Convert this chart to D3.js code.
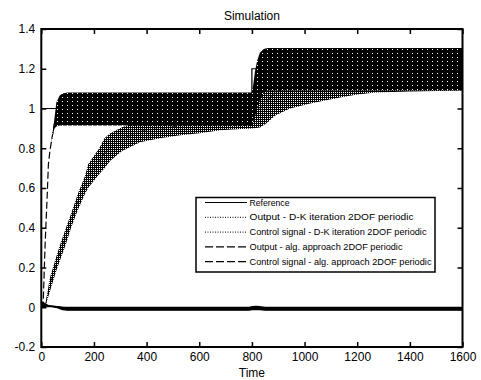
<!DOCTYPE html>
<html><head><meta charset="utf-8">
<script src="https://cdn.jsdelivr.net/npm/d3@7"></script>
<style>html,body{margin:0;padding:0;background:#fff;}svg{display:block;}</style>
</head><body>
<svg id="chart" width="481" height="380"></svg>
<script>
// ---- data ----
const xTicks = [0, 200, 400, 600, 800, 1000, 1200, 1400, 1600];
const yTicks = [-0.2, 0, 0.2, 0.4, 0.6, 0.8, 1, 1.2, 1.4];
const yTickLabels = ["-0.2", "0", "0.2", "0.4", "0.6", "0.8", "1", "1.2", "1.4"];

const refTime = [0, 800, 800, 1600];
const refValue = [1, 1, 1.2, 1.2];

// Output - alg. approach (dashed): envelope of the periodic oscillation
const algTime = [0, 5, 8, 14, 22, 27, 33, 41, 50, 57, 70, 80, 100, 800, 805, 812, 820, 830, 845, 860, 1600];
const algLow  = [0, 0, 0.05, 0.3, 0.55, 0.72, 0.79, 0.85, 0.9, 0.91, 0.915, 0.915, 0.915, 0.915, 0.93, 0.96, 1.0, 1.04, 1.08, 1.09, 1.09];
const algHigh = [0, 0, 0.05, 0.3, 0.55, 0.72, 0.79, 0.86, 0.95, 1.03, 1.065, 1.075, 1.08, 1.08, 1.12, 1.19, 1.24, 1.28, 1.30, 1.305, 1.305];

// Output - D-K iteration (dotted)
const dkTime = [0, 14, 33, 56, 75, 94, 113, 139, 166, 178, 220, 240, 262, 305, 375, 450, 528, 600, 680, 760, 800, 831, 860, 888, 945, 1021, 1097, 1135, 1200, 1268, 1400, 1600];
const dkLow  = [0, 0, 0.08, 0.18, 0.25, 0.32, 0.40, 0.49, 0.571, 0.60, 0.67, 0.70, 0.737, 0.785, 0.83, 0.85, 0.865, 0.875, 0.89, 0.897, 0.9, 0.905, 0.93, 0.965, 1.0, 1.025, 1.045, 1.055, 1.07, 1.08, 1.085, 1.09];
const dkHigh = [0, 0.005, 0.15, 0.25, 0.33, 0.40, 0.47, 0.571, 0.66, 0.72, 0.80, 0.85, 0.875, 0.905, 0.94, 0.95, 0.96, 0.965, 0.97, 0.975, 0.98, 1.1, 1.15, 1.2, 1.22, 1.24, 1.25, 1.25, 1.25, 1.25, 1.25, 1.25];

// Control signal - alg. approach (dashed)
const ctlAlgTime = [0, 3, 10, 20, 40, 60, 80, 100, 790, 800, 815, 830, 850, 1600];
const ctlAlgLow  = [0, 0, 0, 0, 0, -0.005, -0.015, -0.017, -0.017, -0.014, -0.01, -0.014, -0.017, -0.017];
const ctlAlgHigh = [0, 0.025, 0.015, 0.01, 0.008, 0.006, 0.003, 0.003, 0.003, 0.006, 0.008, 0.006, 0.003, 0.003];

// Control signal - D-K iteration (dotted)
const ctlDkTime = [0, 5, 15, 30, 60, 80, 100, 1600];
const ctlDkLow  = [0, 0.01, 0.005, 0.004, 0, -0.012, -0.015, -0.015];
const ctlDkHigh = [0, 0.03, 0.02, 0.01, 0.006, 0.002, 0, 0];

const legendLabels = [
  "Reference",
  "Output - D-K iteration 2DOF periodic",
  "Control signal - D-K iteration 2DOF periodic",
  "Output - alg. approach 2DOF periodic",
  "Control signal - alg. approach 2DOF periodic"
];
const legendStyles = ["solid", "dotted", "dotted", "dashed", "dashed"];
const legendWidths = [40, 164, 177, 153, 182];

// ---- drawing ----
const FONT = "'Liberation Sans', Arial, Helvetica, sans-serif";
const svg = d3.select("#chart");
const L = 41.3, R = 462.5, T = 29, B = 347;
const x = d3.scaleLinear().domain([0, 1600]).range([L, R]);
const y = d3.scaleLinear().domain([-0.2, 1.4]).range([B, T]);

svg.append("rect").attr("width", 481).attr("height", 380).attr("fill", "#fff");

const defs = svg.append("defs");
const pat = defs.append("pattern").attr("id", "dots").attr("patternUnits", "userSpaceOnUse")
  .attr("width", 2).attr("height", 2);
pat.append("rect").attr("width", 2).attr("height", 2).attr("fill", "#fff");
pat.append("rect").attr("x", 0).attr("y", 0).attr("width", 1).attr("height", 2).attr("fill", "#000");
pat.append("rect").attr("x", 1).attr("y", 1).attr("width", 1).attr("height", 1).attr("fill", "#000");
const pat2 = defs.append("pattern").attr("id", "dense").attr("patternUnits", "userSpaceOnUse")
  .attr("width", 5).attr("height", 4);
pat2.append("rect").attr("width", 5).attr("height", 4).attr("fill", "#000");
pat2.append("rect").attr("x", 2).attr("y", 1).attr("width", 1).attr("height", 1).attr("fill", "#fff");
defs.append("clipPath").attr("id", "clip").append("rect")
  .attr("x", L).attr("y", T).attr("width", R - L).attr("height", B - T);

const g = svg.append("g").attr("clip-path", "url(#clip)");

function band(time, lo, hi) {
  return time.map((t, i) => ({t, lo: lo[i], hi: hi[i]}));
}
const area = d3.area().x(d => x(d.t)).y0(d => y(d.lo)).y1(d => y(d.hi));
const mid = d3.line().x(d => x(d.t)).y(d => y((d.lo + d.hi) / 2));

// reference
g.append("path")
  .attr("d", d3.line().x(d => x(d.t)).y(d => y(d.v))(refTime.map((t, i) => ({t, v: refValue[i]}))))
  .attr("fill", "none").attr("stroke", "#000").attr("stroke-width", 1.2);

// D-K output (dotted)
const dk = band(dkTime, dkLow, dkHigh);
g.append("path").attr("d", area(dk)).attr("fill", "url(#dots)");
g.append("path").attr("d", mid(dk)).attr("fill", "none").attr("stroke", "#000")
  .attr("stroke-width", 1).attr("stroke-dasharray", "1,1.5");

// alg output (dashed)
const alg = band(algTime, algLow, algHigh);
g.append("path").attr("d", mid(alg)).attr("fill", "none").attr("stroke", "#000")
  .attr("stroke-width", 1.2).attr("stroke-dasharray", "7,3");
g.append("path").attr("d", area(alg)).attr("fill", "url(#dense)");

// control signals
const cdk = band(ctlDkTime, ctlDkLow, ctlDkHigh);
g.append("path").attr("d", area(cdk)).attr("fill", "#000");
g.append("path").attr("d", mid(cdk)).attr("fill", "none").attr("stroke", "#000")
  .attr("stroke-width", 1).attr("stroke-dasharray", "1,1.5");
const calg = band(ctlAlgTime, ctlAlgLow, ctlAlgHigh);
g.append("path").attr("d", area(calg)).attr("fill", "#000");
g.append("path").attr("d", mid(calg)).attr("fill", "none").attr("stroke", "#000")
  .attr("stroke-width", 1.2);

// axes (ticks inside, on all four sides)
const TL = 5;
const axB = svg.append("g").attr("transform", `translate(0,${B})`)
  .call(d3.axisBottom(x).tickValues(xTicks).tickSizeInner(-TL).tickSizeOuter(0).tickPadding(6)
    .tickFormat(d3.format("d")));
const axT = svg.append("g").attr("transform", `translate(0,${T})`)
  .call(d3.axisTop(x).tickValues(xTicks).tickSizeInner(-TL).tickSizeOuter(0).tickFormat(""));
const axL = svg.append("g").attr("transform", `translate(${L},0)`)
  .call(d3.axisLeft(y).tickValues(yTicks).tickSizeInner(-TL).tickSizeOuter(0).tickPadding(6)
    .tickFormat((d, i) => yTickLabels[i]));
const axR = svg.append("g").attr("transform", `translate(${R},0)`)
  .call(d3.axisRight(y).tickValues(yTicks).tickSizeInner(-TL).tickSizeOuter(0).tickFormat(""));
[axB, axT, axL, axR].forEach(a => {
  a.select(".domain").remove();
  a.selectAll("line").attr("stroke", "#000").attr("stroke-width", 1.5);
  a.selectAll("text").attr("font-family", FONT).attr("font-size", 12).attr("fill", "#000");
});
axB.selectAll("text").attr("dy", "0.71em").attr("y", 5);
svg.append("rect").attr("x", L).attr("y", T).attr("width", R - L).attr("height", B - T)
  .attr("fill", "none").attr("stroke", "#000").attr("stroke-width", 2);

// title and x label
svg.append("text").attr("x", (L + R) / 2).attr("y", 19.5).attr("text-anchor", "middle")
  .attr("font-family", FONT).attr("font-size", 12).text("Simulation");
svg.append("text").attr("x", (L + R) / 2).attr("y", 377).attr("text-anchor", "middle")
  .attr("font-family", FONT).attr("font-size", 12).text("Time");

// legend
const lg = svg.append("g");
lg.append("rect").attr("x", 196).attr("y", 197.5).attr("width", 239).attr("height", 74.5)
  .attr("fill", "#fff").attr("stroke", "#000").attr("stroke-width", 1.5);
legendLabels.forEach((lab, i) => {
  const yy = 202.5 + i * 14.8;
  const ln = lg.append("line").attr("x1", 205).attr("x2", 247).attr("y1", yy).attr("y2", yy)
    .attr("stroke", "#000").attr("stroke-width", 1);
  if (legendStyles[i] === "dotted") ln.attr("stroke-dasharray", "1,1.5");
  if (legendStyles[i] === "dashed") ln.attr("stroke-dasharray", "8,3").attr("stroke-width", 1.3);
  lg.append("text").attr("x", 249.5).attr("y", yy).attr("dy", "0.35em")
    .attr("font-family", FONT).attr("font-size", 9)
    .attr("textLength", legendWidths[i]).attr("lengthAdjust", "spacingAndGlyphs").text(lab);
});
</script>
</body></html>
